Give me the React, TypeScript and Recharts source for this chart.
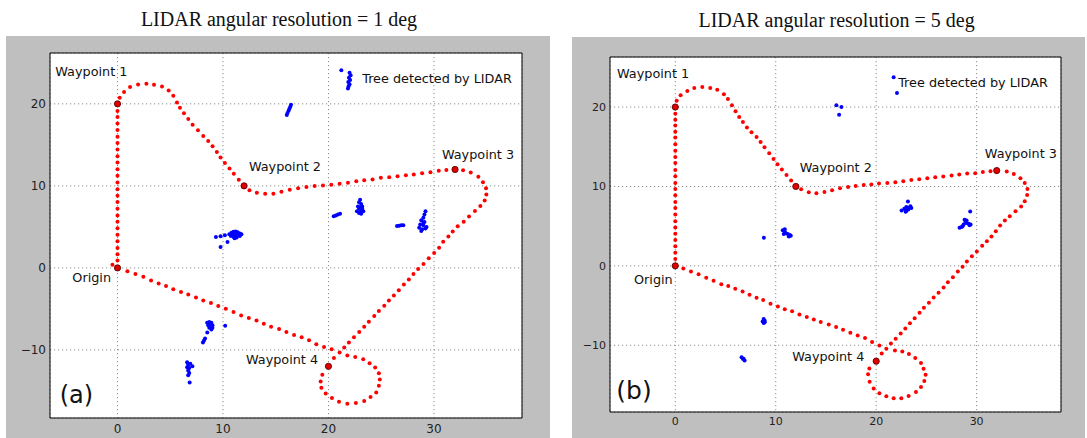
import React from 'react';
import { ScatterChart, Scatter, XAxis, YAxis, CartesianGrid, ReferenceArea } from 'recharts';

type P = { x: number; y: number };
const pts = (a: number[][]): P[] => a.map(([x, y]) => ({ x, y }));

// ---------- Panel (a): angular resolution 1 deg ----------
const waypointsA = pts([[0, 0], [0, 20], [12, 10], [32, 12], [20, -12]]);
const pathA = pts([
  [0, 0.9], [0, 1.66], [0, 2.43], [0, 3.26], [0, 4.03], [0, 4.82], [0, 5.63], [0, 6.4], [0, 7.21], [0, 8.02],
  [0, 8.79], [0, 9.6], [0, 10.41], [0, 11.22], [0, 12.03], [0, 12.84], [0, 13.61], [0, 14.42], [0, 15.23], [0, 16.0],
  [0, 16.81], [0, 17.62], [0, 18.39], [0, 19.12],
  [0.21, 20.74], [0.62, 21.43], [1.19, 22.04], [1.95, 22.36], [2.74, 22.44], [3.46, 22.32], [4.22, 22.12], [4.85, 21.63],
  [5.29, 20.98], [5.64, 20.17], [5.92, 19.53], [6.3, 18.84], [6.71, 18.15], [7.12, 17.46], [7.63, 16.77], [8.13, 16.08],
  [8.6, 15.48], [9.01, 14.83], [9.42, 14.14], [9.77, 13.45], [10.18, 12.8], [10.62, 12.11], [11.03, 11.47], [11.5, 10.74],
  [12.51, 9.48], [13.21, 9.16], [14.0, 9.04], [14.78, 9.04], [15.54, 9.28], [16.33, 9.52], [17.12, 9.72], [17.91, 9.85],
  [18.69, 9.97], [19.48, 10.05], [20.27, 10.13], [21.06, 10.25], [21.85, 10.37], [22.64, 10.57], [23.39, 10.7], [24.18, 10.78],
  [24.97, 10.98], [25.76, 11.06], [26.55, 11.18], [27.34, 11.3], [28.09, 11.39], [28.88, 11.55], [29.67, 11.67], [30.46, 11.83],
  [31.18, 11.95],
  [32.76, 11.91], [33.49, 11.63], [34.21, 11.1], [34.65, 10.45], [34.94, 9.72], [34.97, 8.96], [34.81, 8.23], [34.4, 7.54],
  [33.89, 6.93], [33.33, 6.28], [32.82, 5.63], [32.25, 5.07], [31.78, 4.44], [31.37, 3.83], [30.88, 3.18], [30.49, 2.47],
  [30.02, 1.83], [29.51, 1.18], [29.01, 0.49], [28.5, -0.12], [28.06, -0.73], [27.62, -1.41], [27.15, -2.02], [26.67, -2.71],
  [26.2, -3.36], [25.73, -3.96], [25.29, -4.61], [24.78, -5.26], [24.34, -5.87], [23.83, -6.56], [23.39, -7.17], [22.92, -7.81],
  [22.42, -8.46], [21.94, -9.11], [21.5, -9.72], [21.06, -10.32], [20.52, -10.97],
  [19.42, -13.04], [19.26, -13.85], [19.33, -14.62], [19.74, -15.31], [20.33, -15.87], [21.0, -16.32], [21.79, -16.56],
  [22.6, -16.48], [23.39, -16.24], [23.99, -15.75], [24.53, -15.18], [24.78, -14.37], [24.87, -13.6], [24.78, -12.83],
  [24.43, -12.15], [23.9, -11.62], [23.3, -11.13], [22.54, -10.85], [21.79, -10.69],
  [20.3, -9.92], [19.58, -9.64], [18.85, -9.31], [18.16, -8.83], [17.46, -8.46], [16.74, -8.18], [16.01, -7.81], [15.32, -7.45],
  [14.56, -7.17], [13.87, -6.8], [13.18, -6.4], [12.45, -6.11], [11.72, -5.79], [11.0, -5.38], [10.27, -4.98], [9.55, -4.65],
  [8.86, -4.29], [8.13, -3.96], [7.44, -3.6], [6.71, -3.24], [6.02, -2.95], [5.29, -2.59], [4.6, -2.22], [3.9, -1.9],
  [3.18, -1.53], [2.45, -1.09], [1.7, -0.73], [0.94, -0.4], [-0.48, 0.37],
]);
const treesA = pts([
  [21.22, 24.1], [22.0, 23.78], [22.1, 23.5], [21.94, 23.17], [22.05, 22.9], [21.88, 22.65], [21.91, 22.16], [21.85, 21.87], [22.0, 22.4],
  [16.45, 19.9], [16.38, 19.65], [16.3, 19.4], [16.22, 19.15], [16.12, 18.9], [16.05, 18.65],
  [9.33, 3.77], [9.77, 3.85], [10.18, 3.97], [10.43, 3.16], [9.77, 2.55],
  [10.6, 4.1], [10.8, 4.3], [11.0, 4.4], [11.2, 4.45], [11.4, 4.35], [11.6, 4.2], [10.75, 3.9], [11.0, 3.8], [11.3, 3.7],
  [11.6, 3.9], [11.2, 4.05], [10.9, 4.1], [11.5, 4.05], [11.1, 3.6], [11.75, 4.1],
  [20.5, 6.3], [20.7, 6.4], [20.9, 6.5], [21.1, 6.6],
  [23.0, 8.3], [22.9, 8.0], [23.1, 7.8], [22.8, 7.5], [23.2, 7.5], [22.9, 7.2], [23.1, 7.0], [22.7, 6.9], [23.3, 6.9],
  [22.9, 6.7], [23.1, 6.6], [23.0, 7.4], [23.2, 7.2],
  [26.5, 5.1], [26.7, 5.15], [26.9, 5.2], [27.1, 5.2],
  [29.2, 6.9], [29.1, 6.5], [29.0, 6.1], [28.8, 5.8], [29.1, 5.6], [28.7, 5.3], [29.0, 5.2], [29.3, 5.0], [28.6, 4.9],
  [28.9, 4.7], [29.2, 4.8], [28.8, 4.5], [29.0, 5.5],
  [8.5, -6.7], [8.7, -6.6], [8.9, -6.7], [8.6, -7.0], [8.8, -7.0], [9.0, -7.0], [8.7, -7.3], [9.0, -7.3], [8.9, -7.5],
  [8.51, -7.89], [8.3, -8.6], [8.2, -8.85], [8.1, -9.1], [10.21, -7.04],
  [6.6, -11.5], [6.7, -11.8], [6.9, -11.7], [6.6, -12.1], [6.8, -12.2], [7.1, -12.0], [6.7, -12.5], [6.8, -12.8], [6.7, -13.1], [6.84, -13.97],
]);
const labelsA = [
  { label: 'Waypoint 1', x: -5.9, y: 23.41 },
  { label: 'Waypoint 2', x: 12.46, y: 11.84 },
  { label: 'Waypoint 3', x: 30.76, y: 13.3 },
  { label: 'Waypoint 4', x: 12.18, y: -11.77 },
  { label: 'Origin', x: -4.28, y: -1.7 },
  { label: 'Tree detected by LIDAR', x: 23.2, y: 22.6 },
];
const tagA = [{ label: '(a)', x: -5.48, y: -16.5 }];

// ---------- Panel (b): angular resolution 5 deg ----------
const waypointsB = pts([[0, 0], [0, 20], [12, 10], [32, 12], [20, -12]]);
const pathB = pts([
  [0, 0.88], [0, 1.64], [0, 2.48], [0, 3.25], [0, 4.03], [0, 4.83], [0, 5.62], [0, 6.46], [0, 7.3], [0, 8.05],
  [0, 8.89], [0, 9.69], [0, 10.44], [0, 11.28], [0, 12.08], [0, 12.96], [0, 13.71], [0, 14.51], [0, 15.31], [0, 16.15],
  [0, 16.9], [0, 17.66], [0, 18.41], [0, 19.17],
  [0.14, 20.8], [0.53, 21.47], [1.2, 22.02], [1.89, 22.39], [2.69, 22.52], [3.48, 22.39], [4.18, 22.18], [4.84, 21.6],
  [5.24, 21.01], [5.64, 20.21], [6.0, 19.46], [6.36, 18.75], [6.73, 18.12], [7.13, 17.41], [7.59, 16.82], [8.09, 16.23],
  [8.49, 15.6], [8.88, 14.93], [9.35, 14.18], [9.78, 13.46], [10.18, 12.79], [10.61, 12.12], [11.07, 11.45], [11.53, 10.74],
  [12.53, 9.65], [13.29, 9.27], [14.05, 9.14], [14.85, 9.29], [15.61, 9.52], [16.4, 9.77], [17.2, 9.94], [17.96, 10.07],
  [18.76, 10.19], [19.52, 10.24], [20.28, 10.36], [21.11, 10.44], [21.91, 10.53], [22.7, 10.65], [23.5, 10.82], [24.29, 10.91],
  [25.09, 11.03], [25.88, 11.16], [26.68, 11.24], [27.51, 11.37], [28.27, 11.49], [29.06, 11.62], [29.86, 11.66], [30.62, 11.83],
  [31.38, 11.91],
  [33.0, 11.87], [33.7, 11.58], [34.36, 11.03], [34.79, 10.44], [35.06, 9.69], [35.03, 8.93], [34.79, 8.14], [34.43, 7.47],
  [33.87, 6.88], [33.3, 6.25], [32.81, 5.71], [32.34, 5.08], [31.91, 4.36], [31.48, 3.7], [31.02, 3.09], [30.55, 2.52],
  [30.02, 1.81], [29.53, 1.22], [29.03, 0.55], [28.6, -0.12], [28.13, -0.71], [27.64, -1.42], [27.14, -2.05], [26.71, -2.72],
  [26.21, -3.39], [25.72, -3.98], [25.25, -4.65], [24.75, -5.28], [24.32, -5.91], [23.83, -6.58], [23.36, -7.21], [22.9, -7.88],
  [22.44, -8.51], [21.94, -9.18], [21.47, -9.77], [21.01, -10.44], [20.55, -11.02],
  [19.32, -12.91], [19.19, -13.66], [19.35, -14.59], [19.75, -15.43], [20.32, -16.05], [21.01, -16.43], [21.74, -16.68],
  [22.5, -16.68], [23.23, -16.39], [23.96, -15.89], [24.46, -15.26], [24.79, -14.5], [24.92, -13.71], [24.72, -12.95],
  [24.46, -12.24], [23.89, -11.61], [23.26, -11.11], [22.6, -10.77], [21.87, -10.65],
  [20.32, -10.02], [19.59, -9.6], [18.89, -9.09], [18.16, -8.76], [17.43, -8.42], [16.7, -8.05], [16.01, -7.71], [15.28, -7.38],
  [14.48, -7.08], [13.79, -6.75], [13.09, -6.45], [12.36, -6.12], [11.63, -5.7], [10.9, -5.45], [10.21, -5.11], [9.48, -4.78],
  [8.75, -4.31], [8.09, -4.02], [7.39, -3.64], [6.7, -3.22], [5.97, -2.89], [5.27, -2.55], [4.58, -2.3], [3.81, -1.88],
  [3.08, -1.51], [2.32, -1.04], [1.56, -0.71], [0.8, -0.33],
]);
const treesB = pts([
  [21.74, 23.74], [22.07, 21.77], [16.04, 20.21], [16.54, 20.0], [16.31, 19.04], [8.82, 3.53],
  [10.7, 4.5], [10.9, 4.3], [11.0, 4.1], [11.2, 4.0], [11.4, 3.9], [11.3, 3.7], [10.8, 4.0], [10.9, 4.6], [11.5, 3.8],
  [23.16, 8.1], [23.0, 7.4], [23.2, 7.3], [23.4, 7.5], [22.53, 6.96], [23.0, 6.9], [23.2, 7.1], [23.5, 7.3], [22.93, 6.8], [22.8, 7.2],
  [28.3, 4.8], [28.5, 4.9], [28.7, 5.2], [28.9, 5.5], [28.8, 5.8], [29.0, 5.4], [29.2, 5.3], [29.3, 5.1], [29.4, 5.2],
  [28.6, 5.0], [29.36, 6.84], [29.0, 5.7],
  [8.8, -6.7], [8.9, -6.9], [8.7, -7.0], [8.9, -7.1], [8.8, -7.2],
  [6.6, -11.5], [6.8, -11.7], [6.9, -11.9], [6.73, -11.69],
]);
const labelsB = [
  { label: 'Waypoint 1', x: -5.8, y: 23.71 },
  { label: 'Waypoint 2', x: 12.39, y: 11.77 },
  { label: 'Waypoint 3', x: 30.82, y: 13.53 },
  { label: 'Waypoint 4', x: 11.64, y: -11.92 },
  { label: 'Origin', x: -4.11, y: -2.28 },
  { label: 'Tree detected by LIDAR', x: 22.19, y: 22.46 },
];
const tagB = [{ label: '(b)', x: -5.87, y: -16.81 }];

const xTicks = [0, 10, 20, 30];
const yTicks = [-10, 0, 10, 20];
const titles = ['LIDAR angular resolution = 1 deg', 'LIDAR angular resolution = 5 deg'];

const fmt = (v: number) => String(v).replace('-', '\u2212');

const PathDot = (p: any) => <circle cx={p.cx} cy={p.cy} r={2} fill="#ff0000" />;
const TreeDot = (p: any) => <circle cx={p.cx} cy={p.cy} r={2} fill="#0000ff" />;
const WpDot = (p: any) => <circle cx={p.cx} cy={p.cy} r={3.1} fill="#e00000" stroke="#5a0000" strokeWidth={0.9} />;
const makeText = (size: number) => (p: any) => (
  <text x={p.cx} y={p.cy} fontSize={size} fontFamily="DejaVu Sans" fill="#111" textAnchor="start">
    {p.payload.label}
  </text>
);

type PanelProps = {
  left: number; top: number; width: number; height: number;
  margin: any; yWidth: number; xHeight: number; xMargin: number; yMargin: number; tickFont: number;
  xDom: [number, number]; yDom: [number, number];
  path: P[]; trees: P[]; wps: P[]; labels: any[]; tag: any[]; tagSize: number; labelSize: number;
};

function Panel(pp: PanelProps) {
  const tickStyle = { fontSize: pp.tickFont, fontFamily: 'DejaVu Sans', fill: '#222' };
  return (
    <div style={{ position: 'absolute', left: pp.left, top: pp.top, width: pp.width, height: pp.height, background: '#bfbfbf' }}>
      <ScatterChart width={pp.width} height={pp.height} margin={pp.margin}>
        <CartesianGrid fill="#ffffff" stroke="#8f8f8f" strokeDasharray="1.2 2.8" />
        <XAxis type="number" dataKey="x" domain={pp.xDom} ticks={xTicks} allowDataOverflow height={pp.xHeight}
          axisLine={false} tickLine={false} tickSize={0} tickMargin={pp.xMargin} tick={tickStyle} tickFormatter={fmt} />
        <YAxis type="number" dataKey="y" domain={pp.yDom} ticks={yTicks} allowDataOverflow width={pp.yWidth}
          axisLine={false} tickLine={false} tickSize={0} tickMargin={pp.yMargin} tick={tickStyle} tickFormatter={fmt} />
        <ReferenceArea x1={pp.xDom[0]} x2={pp.xDom[1]} y1={pp.yDom[0]} y2={pp.yDom[1]} fill="none" fillOpacity={0}
          stroke="#000" strokeWidth={1} ifOverflow="visible" />
        <Scatter data={pp.trees} shape={TreeDot} isAnimationActive={false} />
        <Scatter data={pp.path} shape={PathDot} isAnimationActive={false} />
        <Scatter data={pp.wps} shape={WpDot} isAnimationActive={false} />
        <Scatter data={pp.labels} shape={makeText(pp.labelSize)} isAnimationActive={false} />
        <Scatter data={pp.tag} shape={makeText(pp.tagSize)} isAnimationActive={false} />
      </ScatterChart>
    </div>
  );
}

const titleStyle = (center: number, top: number): React.CSSProperties => ({
  position: 'absolute', left: center - 200, top, width: 400, textAlign: 'center',
  fontFamily: '"Liberation Serif", "Times New Roman", serif', fontSize: 20, lineHeight: '20px', color: '#111', whiteSpace: 'nowrap',
});

export default function App() {
  return (
    <div style={{ position: 'absolute', left: 0, top: 0, width: 1087, height: 438, background: '#fff', overflow: 'hidden' }}>
      <div style={titleStyle(279, 9)}>{titles[0]}</div>
      <div style={titleStyle(836.6, 10)}>{titles[1]}</div>
      <Panel left={6} top={36} width={544} height={402} margin={{ top: 17, right: 28, bottom: 0, left: 4 }}
        yWidth={40} xHeight={20} xMargin={6} yMargin={4} tickFont={12}
        xDom={[-6.4, 38.35]} yDom={[-18.3, 26.2]}
        path={pathA} trees={treesA} wps={waypointsA} labels={labelsA} tag={tagA} tagSize={24} labelSize={12.8} />
      <Panel left={572} top={37} width={513} height={401} margin={{ top: 20, right: 24, bottom: 0, left: 2 }}
        yWidth={36} xHeight={26} xMargin={5} yMargin={4} tickFont={11}
        xDom={[-6.5, 38.4]} yDom={[-18.4, 26.3]}
        path={pathB} trees={treesB} wps={waypointsB} labels={labelsB} tag={tagB} tagSize={25} labelSize={12.8} />
    </div>
  );
}
